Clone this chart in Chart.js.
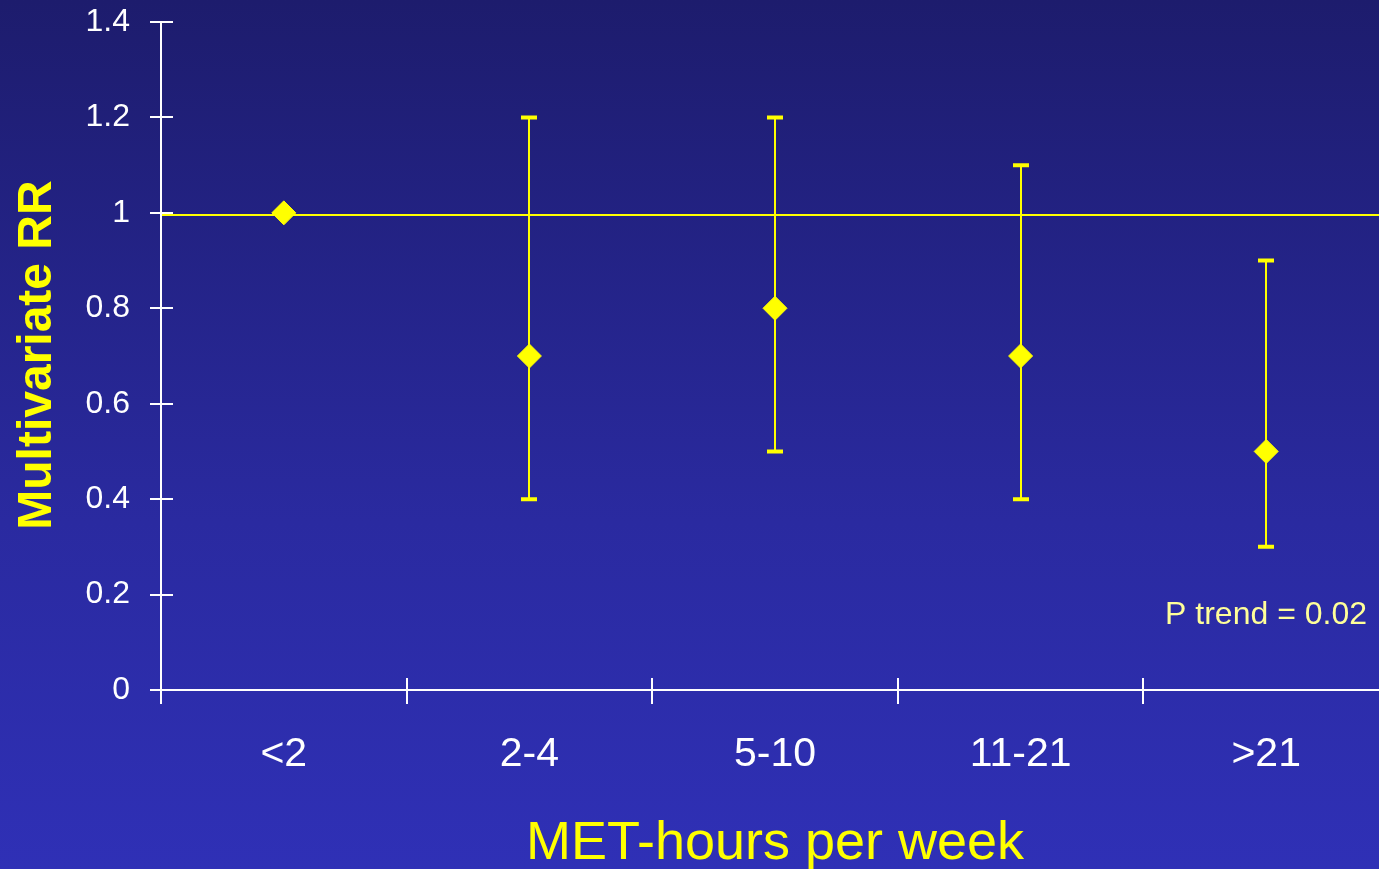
<!DOCTYPE html>
<html>
<head>
<meta charset="utf-8">
<script src="https://cdn.jsdelivr.net/npm/chart.js@4"></script>
<style>
    html, body { margin: 0; padding: 0; overflow: hidden; }
    body {
        width: 1379px; height: 869px;
        background: linear-gradient(to bottom, #1d1c6d 0%, #2a2aa0 60%, #2f30b6 100%);
    }
    #chart { display: block; }
</style>
</head>
<body>
<canvas id="chart" width="1402" height="869"></canvas>
<script>
// Datos del gráfico
var categories = ['<2', '2-4', '5-10', '11-21', '>21'];
var rr = [1.0, 0.7, 0.8, 0.7, 0.5];
var ciLow = [null, 0.4, 0.5, 0.4, 0.3];
var ciHigh = [null, 1.2, 1.2, 1.1, 0.9];
var yTicks = [0, 0.2, 0.4, 0.6, 0.8, 1, 1.2, 1.4];
var referenceRR = 1;

var FONT = 'Liberation Sans, Arial, sans-serif';

// Ejes, marcas, línea de referencia y barras de error
var decorPlugin = {
    id: 'decor',
    beforeDatasetsDraw: function (chart) {
        var ctx = chart.ctx;
        var x = chart.scales.x, y = chart.scales.y;
        var area = chart.chartArea;
        ctx.save();

        // línea de referencia RR = 1
        ctx.strokeStyle = '#ffff00';
        ctx.lineWidth = 2;
        var yRef = Math.round(y.getPixelForValue(referenceRR)) + 2;
        ctx.beginPath();
        ctx.moveTo(area.left, yRef);
        ctx.lineTo(area.right, yRef);
        ctx.stroke();

        // ejes
        ctx.strokeStyle = '#ffffff';
        ctx.lineWidth = 2;
        var y0 = Math.round(y.getPixelForValue(0));
        ctx.beginPath();
        ctx.moveTo(area.left, Math.round(y.getPixelForValue(1.4)));
        ctx.lineTo(area.left, y0 + 14);
        ctx.moveTo(area.left - 11, y0);
        ctx.lineTo(area.right, y0);
        yTicks.forEach(function (v) {
            var py = Math.round(y.getPixelForValue(v));
            ctx.moveTo(area.left - 11, py);
            ctx.lineTo(area.left + 12, py);
        });
        for (var i = 1; i < categories.length; i++) {
            var px = Math.round((x.getPixelForValue(i - 1) + x.getPixelForValue(i)) / 2);
            ctx.moveTo(px, y0 - 12);
            ctx.lineTo(px, y0 + 14);
        }
        ctx.stroke();

        // barras de error
        ctx.strokeStyle = '#ffff00';
        for (var j = 0; j < categories.length; j++) {
            if (ciLow[j] === null) continue;
            var cx = Math.round(x.getPixelForValue(j));
            var lo = y.getPixelForValue(ciLow[j]);
            var hi = y.getPixelForValue(ciHigh[j]);
            ctx.lineWidth = 2;
            ctx.beginPath();
            ctx.moveTo(cx, lo);
            ctx.lineTo(cx, hi);
            ctx.stroke();
            ctx.lineWidth = 4;
            ctx.beginPath();
            ctx.moveTo(cx - 8, lo);
            ctx.lineTo(cx + 8, lo);
            ctx.moveTo(cx - 8, hi);
            ctx.lineTo(cx + 8, hi);
            ctx.stroke();
        }
        ctx.restore();
    },
    afterDraw: function (chart) {
        var ctx = chart.ctx;
        ctx.save();
        // título eje Y
        ctx.fillStyle = '#ffff00';
        ctx.font = 'bold 48px ' + FONT;
        ctx.textAlign = 'center';
        ctx.textBaseline = 'alphabetic';
        ctx.translate(51, 355);
        ctx.rotate(-Math.PI / 2);
        ctx.fillText('Multivariate RR', 0, 0);
        ctx.restore();

        ctx.save();
        // título eje X
        ctx.fillStyle = '#ffff00';
        ctx.font = '54px ' + FONT;
        ctx.textAlign = 'center';
        ctx.textBaseline = 'alphabetic';
        ctx.fillText('MET-hours per week', 775, 859);
        // anotación
        ctx.fillStyle = '#ffff99';
        ctx.font = '32px ' + FONT;
        ctx.textAlign = 'right';
        ctx.fillText('P trend = 0.02', 1367, 624);
        ctx.restore();
    }
};

new Chart(document.getElementById('chart'), {
    type: 'line',
    data: {
        labels: categories,
        datasets: [{
            label: 'Multivariate RR',
            data: rr,
            showLine: false,
            pointStyle: 'rectRot',
            pointRadius: 12,
            pointHoverRadius: 12,
            pointBackgroundColor: '#ffff00',
            pointBorderColor: '#ffff00',
            pointBorderWidth: 1
        }]
    },
    options: {
        responsive: false,
        animation: false,
        layout: { padding: { top: 22, left: 0, right: 0, bottom: 0 } },
        plugins: {
            legend: { display: false },
            tooltip: { enabled: false }
        },
        scales: {
            x: {
                type: 'category',
                offset: true,
                grid: { display: false, drawTicks: false },
                border: { display: false },
                ticks: {
                    color: '#ffffff',
                    font: { family: FONT, size: 41 },
                    padding: 40,
                    maxRotation: 0,
                    autoSkip: false
                },
                afterFit: function (scale) {
                    scale.height = 179;
                    scale.paddingLeft = 0;
                    scale.paddingRight = 0;
                }
            },
            y: {
                min: 0,
                max: 1.4,
                grid: { display: false, drawTicks: false },
                border: { display: false },
                afterBuildTicks: function (scale) {
                    scale.ticks = yTicks.map(function (v) { return { value: v }; });
                },
                ticks: {
                    color: '#ffffff',
                    font: { family: FONT, size: 32 },
                    padding: 31,
                    callback: function (v) { return String(parseFloat(v.toFixed(1))); }
                },
                afterFit: function (scale) {
                    scale.width = 161;
                    scale.paddingTop = 0;
                    scale.paddingBottom = 0;
                }
            }
        }
    },
    plugins: [decorPlugin]
});
</script>
</body>
</html>
